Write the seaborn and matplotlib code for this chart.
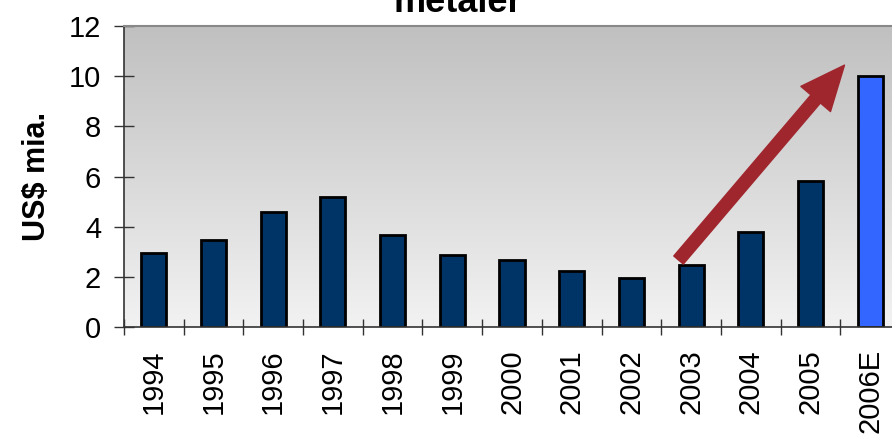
import numpy as np
import pandas as pd
import seaborn as sns
import matplotlib.pyplot as plt
from matplotlib.ticker import FixedLocator

# data
years = ['1994', '1995', '1996', '1997', '1998', '1999', '2000',
         '2001', '2002', '2003', '2004', '2005', '2006E']
values = [2.95, 3.47, 4.58, 5.18, 3.67, 2.87, 2.67,
          2.23, 1.95, 2.47, 3.78, 5.82, 10.0]
bar_colors = ['#003366'] * 12 + ['#3366FF']

# arrow start / end in data units
arrow_from = (8.79, 2.67)
arrow_to = (11.57, 10.44)

sns.set_style("white")
plt.rcParams['font.family'] = ['Liberation Sans', 'DejaVu Sans']
plt.rcParams['text.color'] = 'black'
plt.rcParams['xtick.color'] = 'black'
plt.rcParams['ytick.color'] = 'black'
plt.rcParams['axes.labelcolor'] = 'black'

df = pd.DataFrame({'year': years, 'value': values})

fig = plt.figure(figsize=(8.92, 4.36), dpi=100)
ax = fig.add_axes([124 / 892, 109 / 436, 776 / 892, 301 / 436])

# grey gradient background (darker at top)
grad = np.linspace(0, 1, 256).reshape(-1, 1)
ax.imshow(grad, extent=[0, 1, 0, 1], transform=ax.transAxes, aspect='auto',
          cmap=sns.blend_palette(['#c0c0c0', '#f2f2f2'], as_cmap=True),
          origin='upper', zorder=0)

sns.barplot(data=df, x='year', y='value', hue='year', palette=bar_colors,
            legend=False, width=0.42, edgecolor='black', linewidth=2,
            saturation=1, ax=ax, zorder=2)

ax.set_xlim(-0.5, 12.5)
ax.set_ylim(0, 12)
ax.set_yticks(range(0, 13, 2))
ax.set_xlabel('')
ax.set_ylabel('US$ mia.', fontsize=22, fontweight='bold', labelpad=12)

ax.tick_params(axis='y', labelsize=21, direction='inout', length=15,
               width=1, color='#333333', labelcolor='black', pad=9, left=True)
ax.tick_params(axis='x', which='major', labelsize=21, labelrotation=90,
               length=0, pad=16, labelcolor='black')
ax.xaxis.set_minor_locator(FixedLocator(np.arange(-0.5, 13, 1)))
ax.tick_params(axis='x', which='minor', direction='inout', length=11,
               width=1, color='#333333', bottom=True)

for side in ['left', 'bottom']:
    ax.spines[side].set_color('#333333')
    ax.spines[side].set_linewidth(1.2)
ax.spines['top'].set_color('#888888')
ax.spines['top'].set_linewidth(1.5)
ax.spines['right'].set_visible(False)

ax.annotate('', xy=arrow_to, xytext=arrow_from,
            arrowprops=dict(arrowstyle='simple,head_length=1.6,head_width=1.4,tail_width=0.45',
                            color='#A0262E', mutation_scale=20,
                            shrinkA=0, shrinkB=0), zorder=4)

fig.text(0.513, 1 - 12 / 436, 'metaler', ha='center', va='baseline',
         fontsize=26, fontweight='bold', color='black')

fig.savefig('out.png', dpi=100)
